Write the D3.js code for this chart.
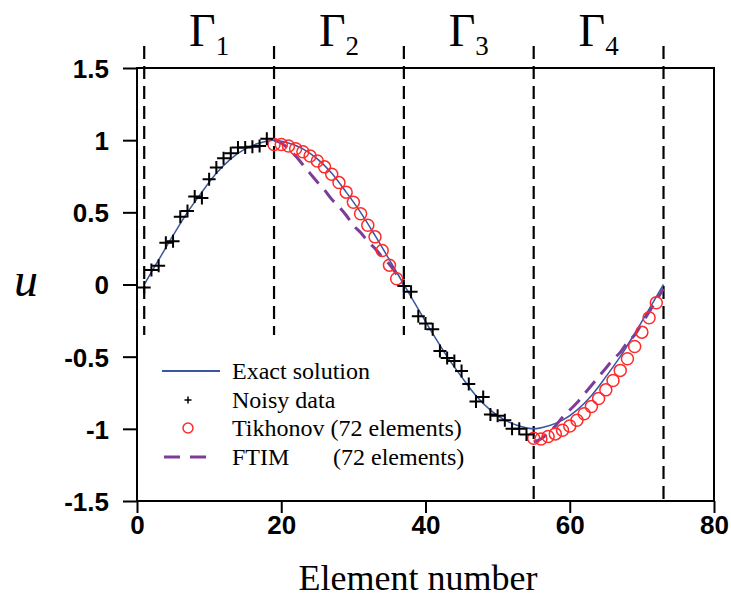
<!DOCTYPE html>
<html>
<head>
<meta charset="utf-8">
<script src="https://cdn.jsdelivr.net/npm/d3@7"></script>
<style>
  body { margin: 0; background: #fff; }
  svg text { fill: #000; }
</style>
</head>
<body>
<div id="chart"></div>
<script>
// element numbers where the boundary segments change
var boundaries = [1, 19, 37, 55, 73];
var segmentLabels = ["1", "2", "3", "4"];

// exact solution, read every 2 elements
var exactX = [1, 3, 5, 7, 9, 11, 13, 15, 17, 19, 21, 23, 25, 27, 29, 31, 33, 35, 37,
  39, 41, 43, 45, 47, 49, 51, 53, 55, 57, 59, 61, 63, 65, 67, 69, 71, 73];
var exactU = [0, 0.17, 0.34, 0.5, 0.64, 0.77, 0.87, 0.94, 0.98, 1.0, 0.98, 0.94, 0.87, 0.77, 0.64, 0.5, 0.34, 0.17, 0,
  -0.17, -0.34, -0.5, -0.64, -0.77, -0.87, -0.94, -0.98, -1.0, -0.98, -0.94, -0.87, -0.77, -0.64, -0.5, -0.34, -0.17, 0];

// noisy data (gamma 1 and gamma 3)
var noisyX = [1, 2, 3, 4, 5, 6, 7, 8, 9, 10, 11, 12, 13, 14, 15, 16, 17, 18,
  37, 38, 39, 40, 41, 42, 43, 44, 45, 46, 47, 48, 49, 50, 51, 52, 53, 54];
var noisyU = [-0.02, 0.1, 0.13, 0.29, 0.3, 0.47, 0.51, 0.61, 0.6, 0.73, 0.81, 0.875, 0.91, 0.95, 0.95, 0.955, 0.96, 1.01,
  -0.01, -0.05, -0.22, -0.27, -0.31, -0.46, -0.51, -0.53, -0.6, -0.69, -0.81, -0.78, -0.9, -0.91, -0.94, -1.0, -1.0, -1.04];

// Tikhonov (72 elements), gamma 2 and gamma 4
var tikX = [19, 20, 21, 22, 23, 24, 25, 26, 27, 28, 29, 30, 31, 32, 33, 34, 35, 36,
  55, 56, 57, 58, 59, 60, 61, 62, 63, 64, 65, 66, 67, 68, 69, 70, 71, 72];
var tikU = [0.97, 0.97, 0.96, 0.94, 0.92, 0.89, 0.856, 0.815, 0.764, 0.706, 0.64, 0.57, 0.49, 0.41, 0.33, 0.236, 0.134, 0.04,
  -1.065, -1.07, -1.053, -1.035, -1.01, -0.98, -0.94, -0.896, -0.845, -0.79, -0.73, -0.665, -0.595, -0.514, -0.43, -0.33, -0.23, -0.127];

// FTIM (72 elements), two separate pieces
var ftimX2 = [19, 20, 21, 22, 23, 24, 25, 26, 27, 28, 29, 30, 31, 32, 33, 34, 35, 36, 37];
var ftimU2 = [1.0, 0.98, 0.94, 0.89, 0.83, 0.77, 0.71, 0.655, 0.59, 0.54, 0.48, 0.41, 0.36, 0.3, 0.25, 0.19, 0.14, 0.07, 0.0];
var ftimX4 = [55, 56, 57, 58, 59, 60, 61, 62, 63, 64, 65, 66, 67, 68, 69, 70, 71, 72, 73];
var ftimU4 = [-1.09, -1.07, -1.03, -0.98, -0.92, -0.87, -0.82, -0.76, -0.7, -0.64, -0.58, -0.52, -0.47, -0.4, -0.35, -0.27, -0.19, -0.11, -0.03];

var xTicks = [0, 20, 40, 60, 80];
var yTicks = [-1.5, -1, -0.5, 0, 0.5, 1, 1.5];
var legendLabels = ["Exact solution", "Noisy data", "Tikhonov (72 elements)", "FTIM"];

var width = 731, height = 600;
var blue = "#3a55a4", red = "#ff2a2a", purple = "#7d3c98";
var serif = "'Liberation Serif', 'Times New Roman', serif";
var sans = "'Liberation Sans', Arial, sans-serif";

var svg = d3.select("#chart").append("svg")
  .attr("width", width)
  .attr("height", height);

var x = d3.scaleLinear().domain([0, 80]).range([137, 714]);
var y = d3.scaleLinear().domain([-1.5, 1.5]).range([501, 68]);

function zip(xs, us) { return xs.map(function (v, i) { return { x: v, u: us[i] }; }); }

// frame
svg.append("rect")
  .attr("x", x(0)).attr("y", y(1.5))
  .attr("width", x(80) - x(0)).attr("height", y(-1.5) - y(1.5))
  .attr("fill", "none").attr("stroke", "#000").attr("stroke-width", 2);

// axes (plain hyphen for negatives, like the original)
var yAxis = svg.append("g")
  .attr("transform", "translate(" + x(0) + ",0)")
  .call(d3.axisLeft(y).tickValues(yTicks).tickSize(14).tickPadding(14)
    .tickFormat(function (d) { return String(d); }));
var xAxis = svg.append("g")
  .attr("transform", "translate(0," + y(-1.5) + ")")
  .call(d3.axisBottom(x).tickValues(xTicks).tickSize(12).tickPadding(3));

[xAxis, yAxis].forEach(function (ax) {
  ax.select(".domain").remove();
  ax.selectAll("line").attr("stroke", "#000").attr("stroke-width", 2);
  ax.selectAll("text")
    .attr("font-family", sans).attr("font-weight", "bold").attr("font-size", 26)
    .attr("fill", "#000");
});
yAxis.selectAll("text").attr("dy", "0.36em");

// segment boundaries (dashed)
svg.selectAll(".bound")
  .data(boundaries)
  .enter().append("line")
  .attr("class", "bound")
  .attr("x1", function (d) { return x(d); })
  .attr("x2", function (d) { return x(d); })
  .attr("y1", 46)
  .attr("y2", function (d) { return d < 50 ? y(-0.35) : y(-1.5); })
  .attr("stroke", "#000").attr("stroke-width", 2.2)
  .attr("stroke-dasharray", "13,7");

// gamma labels
var gl = svg.selectAll(".gamma")
  .data(segmentLabels)
  .enter().append("text")
  .attr("class", "gamma")
  .attr("x", function (d, i) { return x((boundaries[i] + boundaries[i + 1]) / 2); })
  .attr("y", 46)
  .attr("text-anchor", "middle")
  .attr("font-family", serif)
  .attr("font-size", 46);
gl.append("tspan").text("Γ");
gl.append("tspan").attr("font-size", 27).attr("dy", 9).text(function (d) { return d; });

// exact solution
var line = d3.line()
  .x(function (d) { return x(d.x); })
  .y(function (d) { return y(d.u); })
  .curve(d3.curveCatmullRom);

svg.append("path")
  .datum(zip(exactX, exactU))
  .attr("d", line)
  .attr("fill", "none").attr("stroke", blue).attr("stroke-width", 1.5);

// FTIM dashed pieces
var ftimLine = d3.line()
  .x(function (d) { return x(d.x); })
  .y(function (d) { return y(d.u); })
  .curve(d3.curveMonotoneX);

[zip(ftimX2, ftimU2), zip(ftimX4, ftimU4)].forEach(function (piece) {
  svg.append("path")
    .datum(piece)
    .attr("d", ftimLine)
    .attr("fill", "none").attr("stroke", purple).attr("stroke-width", 3)
    .attr("stroke-dasharray", "15,9");
});

// Tikhonov circles
svg.selectAll(".tik")
  .data(zip(tikX, tikU))
  .enter().append("circle")
  .attr("class", "tik")
  .attr("cx", function (d) { return x(d.x); })
  .attr("cy", function (d) { return y(d.u); })
  .attr("r", 6)
  .attr("fill", "none").attr("stroke", red).attr("stroke-width", 1.5);

// noisy plus markers
function plusPath(s) { return "M" + (-s) + ",0H" + s + "M0," + (-s) + "V" + s; }
svg.selectAll(".noisy")
  .data(zip(noisyX, noisyU))
  .enter().append("path")
  .attr("class", "noisy")
  .attr("transform", function (d) { return "translate(" + x(d.x) + "," + y(d.u) + ")"; })
  .attr("d", plusPath(6.5))
  .attr("stroke", "#000").attr("stroke-width", 2).attr("fill", "none");

// legend
var lg = svg.append("g").attr("class", "legend");
var rowY = [371, 400, 428, 457];
lg.append("line").attr("x1", 162).attr("x2", 220).attr("y1", rowY[0]).attr("y2", rowY[0])
  .attr("stroke", blue).attr("stroke-width", 2);
lg.append("path").attr("transform", "translate(188," + rowY[1] + ")")
  .attr("d", plusPath(3.5)).attr("stroke", "#000").attr("stroke-width", 1.5);
lg.append("circle").attr("cx", 188).attr("cy", rowY[2]).attr("r", 5)
  .attr("fill", "none").attr("stroke", red).attr("stroke-width", 1.5);
lg.append("line").attr("x1", 164).attr("x2", 214).attr("y1", rowY[3]).attr("y2", rowY[3])
  .attr("stroke", purple).attr("stroke-width", 3).attr("stroke-dasharray", "16,10");

lg.selectAll(".ltext")
  .data(legendLabels)
  .enter().append("text")
  .attr("class", "ltext")
  .attr("x", 232)
  .attr("y", function (d, i) { return rowY[i] + 8; })
  .attr("font-family", serif)
  .attr("font-size", 24)
  .text(function (d) { return d; });
lg.append("text")
  .attr("x", 333).attr("y", rowY[3] + 8)
  .attr("font-family", serif).attr("font-size", 24)
  .text("(72 elements)");

// axis titles
svg.append("text")
  .attr("x", 418).attr("y", 590)
  .attr("text-anchor", "middle")
  .attr("font-family", serif).attr("font-size", 36)
  .text("Element number");
svg.append("text")
  .attr("x", 26).attr("y", 296)
  .attr("text-anchor", "middle")
  .attr("font-family", serif).attr("font-style", "italic").attr("font-size", 48)
  .text("u");
</script>
</body>
</html>
